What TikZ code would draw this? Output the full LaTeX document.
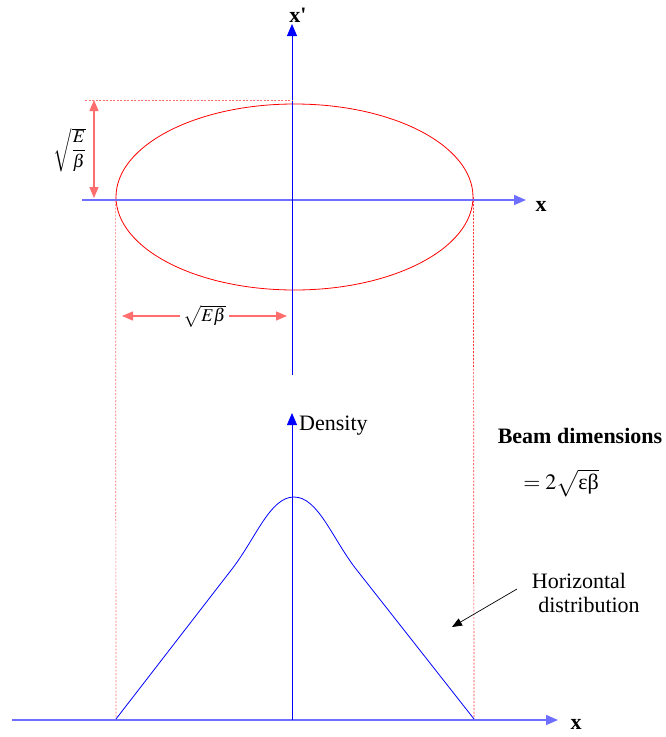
\documentclass[tikz,border=0pt]{standalone}
\usepackage{mathptmx}
\usepackage[no-math]{fontspec}
\setmainfont{Liberation Serif}
\usepackage{tikz}
\usetikzlibrary{arrows.meta,positioning,shapes.geometric}
\definecolor{axisblue}{RGB}{110,110,255}
\definecolor{lightred}{RGB}{255,110,110}
\begin{document}
\begin{tikzpicture}[x=1pt, y=-1pt,
  every node/.style={font=\fontsize{22}{24}\selectfont, inner sep=1pt},
  axis/.style={draw=axisblue, line width=1.6pt, -{Triangle[length=12pt, width=10pt]}},
  vaxis/.style={draw=blue, line width=0.8pt, -{Triangle[length=12pt, width=10pt]}},
  dim/.style={draw=lightred, line width=1.3pt, {Triangle[length=11pt, width=9pt]}-{Triangle[length=11pt, width=9pt]}},
  guide/.style={draw=red!80, dashed, dash pattern=on 2pt off 1.5pt, line width=0.7pt},
  axlbl/.style={font=\fontsize{22}{24}\selectfont\bfseries},
  mathlbl/.style={font=\fontsize{18}{20}\selectfont}]
\useasboundingbox (0,0) rectangle (665,737);
% phase space ellipse
\coordinate (xa0) at (82,200);   \coordinate (xa1) at (526,200);
\coordinate (ya0) at (292,375);  \coordinate (ya1) at (292,24);
\node[draw=red, line width=0.8pt, ellipse, minimum width=357pt, minimum height=186pt, inner sep=0pt] (beam) at (294.5,197) {};
\draw[axis] (xa0) -- (xa1);
\draw[vaxis] (ya0) -- (ya1);
\node[axlbl] (xp) at (298,15) {x\textquotesingle};
\node[axlbl] (xlab) at (541,206) {x};
% beta and emittance marks
\coordinate (t0) at (85,100);  \coordinate (t1) at (292,100);
\draw[guide, draw=lightred] (t0) -- (t1);
\coordinate (h0) at (94,100);  \coordinate (h1) at (94,198);
\draw[dim] (h0) -- (h1);
\node[mathlbl] (hlab) at (70,150) {$\sqrt{\displaystyle\frac{E}{\beta}}$};
\coordinate (w0) at (122,316); \coordinate (w1) at (287,316);
\draw[dim] (w0) -- node[mathlbl, fill=white, inner sep=3pt] (wlab) {$\sqrt{E\beta}$} (w1);
% projection
\coordinate (b0) at (12,720);  \coordinate (b1) at (558,720);
\coordinate (d0) at (292,720); \coordinate (d1) at (292,413);
\coordinate (pl) at (116,719); \coordinate (pr) at (474,719);
\draw[guide, draw=lightred] (beam.west) -- (pl);
\draw[guide] (beam.east) -- (pr);
\draw[axis] (b0) -- (b1);
\draw[vaxis] (d0) -- (d1);
\node[axlbl] (xlab2) at (576,724) {x};
\node[anchor=west] (dens) at (298,426) {Density};
\draw[blue, line width=0.8pt] (pl) -- (232,569) .. controls (256,538) and (270,497) .. (294,497)
  .. controls (318,497) and (332,538) .. (356,569) -- (pr);
% annotations
\node[inner sep=0pt] (bd) at (580,436) {\bfseries Beam dimensions};
\node[inner sep=0pt] (bdv) at (561,483) {$=2\sqrt{\mbox{εβ}}$};
\node (hz) at (579,581) {Horizontal};
\node (ds) at (589,605) {distribution};
\coordinate (a0) at (517,589); \coordinate (a1) at (452,627);
\draw[line width=0.7pt, -{Triangle[length=10pt, width=8pt]}] (a0) -- (a1);
\end{tikzpicture}
\end{document}
